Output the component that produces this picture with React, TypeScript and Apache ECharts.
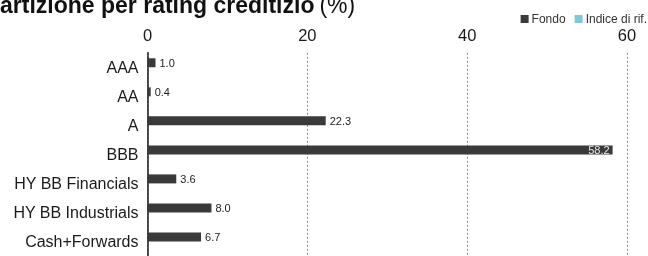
import React, { useEffect, useRef } from "react";
import * as echarts from "echarts";

const categories = ["AAA", "AA", "A", "BBB", "HY BB Financials", "HY BB Industrials", "Cash+Forwards"];
const fondoValues = [1.0, 0.4, 22.3, 58.2, 3.6, 8.0, 6.7];
const indiceValues: (number | null)[] = [];
const xTicks = [0, 20, 40, 60];

const FONT = "'Liberation Sans', Arial, Helvetica, sans-serif";

export default function App() {
  const ref = useRef<HTMLDivElement>(null);
  useEffect(() => {
    if (!ref.current) return;
    const chart = echarts.init(ref.current, undefined, { renderer: "svg" });
    chart.setOption({
      animation: false,
      textStyle: { fontFamily: FONT },
      title: {
        text: "{b|Ripartizione per rating creditizio} {r|(%)}",
        left: -37,
        top: -8,
        padding: 0,
        textStyle: {
          rich: {
            b: { fontSize: 23, fontWeight: "bold", color: "#111", fontFamily: FONT, lineHeight: 26 },
            r: { fontSize: 23, fontWeight: "normal", color: "#111", fontFamily: FONT, lineHeight: 26 },
          },
        },
      },
      legend: {
        right: 1,
        top: 13,
        padding: 0,
        itemWidth: 8,
        itemHeight: 8,
        itemGap: 9,
        icon: "rect",
        textStyle: { fontSize: 12, color: "#333", fontFamily: FONT, padding: [0, 0, 0, -2] },
        data: ["Fondo", "Indice di rif."],
      },
      grid: { left: 147.5, right: 21, top: 52.75, bottom: -3.25, containLabel: false },
      xAxis: {
        type: "value",
        position: "top",
        min: xTicks[0],
        max: xTicks[xTicks.length - 1],
        interval: 20,
        axisLine: { show: false },
        axisTick: { show: false },
        axisLabel: { fontSize: 16.5, color: "#1a1a1a", margin: 9, fontFamily: FONT },
        splitLine: { show: true, lineStyle: { type: [2, 2], color: "#8a8a8a", width: 1 } },
      },
      yAxis: {
        type: "category",
        inverse: true,
        data: categories,
        axisLine: { show: true, lineStyle: { color: "#1a1a1a", width: 1.5 } },
        axisTick: { show: false },
        axisLabel: { fontSize: 16, color: "#1a1a1a", margin: 9, fontFamily: FONT },
      },
      series: [
        {
          name: "Fondo",
          type: "bar",
          data: fondoValues.map((v) => ({
            value: v,
            label:
              v > 50
                ? { position: "insideRight", color: "#e8e8e8", distance: 3 }
                : { position: "right", color: "#222", distance: 4 },
          })),
          barWidth: 9,
          barGap: "0%",
          itemStyle: { color: "#3a3a3a" },
          label: {
            show: true,
            fontSize: 11,
            fontFamily: FONT,
            formatter: (p: any) => Number(p.value).toFixed(1),
          },
        },
        {
          name: "Indice di rif.",
          type: "bar",
          data: indiceValues,
          barWidth: 9,
          barGap: "0%",
          itemStyle: { color: "#7ec8d8" },
        },
      ],
    });
    return () => chart.dispose();
  }, []);
  return <div ref={ref} style={{ position: "fixed", left: 0, top: 0, width: 648, height: 256 }} />;
}
